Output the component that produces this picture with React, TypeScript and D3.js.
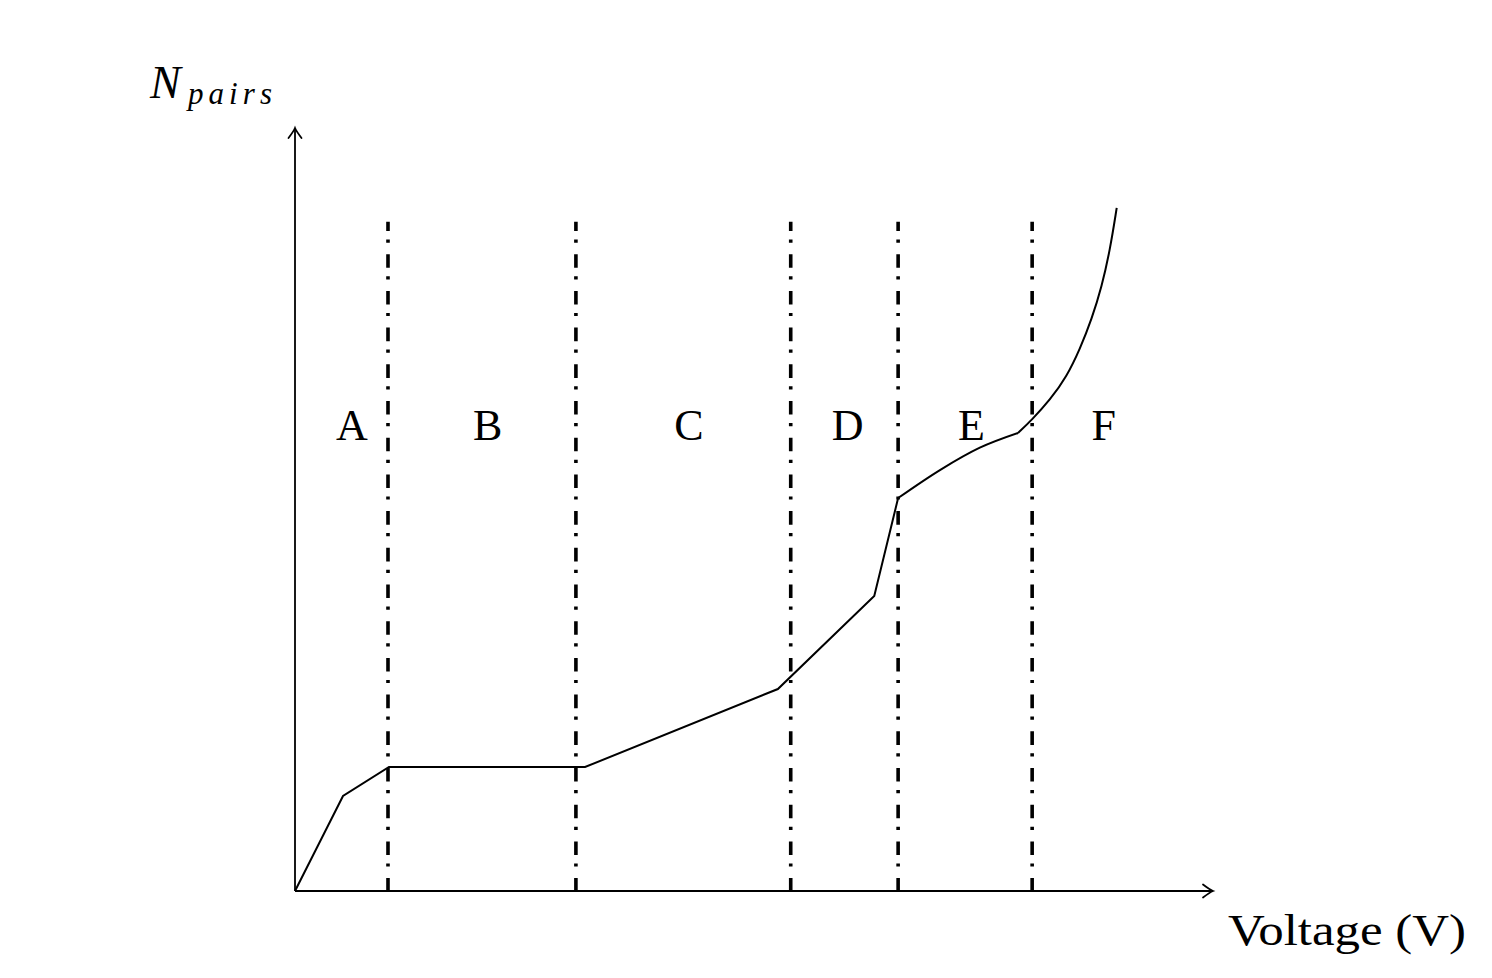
import React from "react";
import * as d3 from "d3";

const W = 1492;
const H = 978;

// piecewise-linear part (regions A–D)
const linearX = [0, 5.23, 10.24, 31.6, 52.6, 63.1, 65.7];
const linearY = [0, 12.45, 16.25, 16.25, 26.47, 38.66, 51.5];
// region E (gentle curve)
const eX = [65.7, 70.3, 74.6, 78.76];
const eY = [51.5, 55.2, 58.1, 60.03];
// region F (steep rise)
const fX = [78.76, 80.25, 82.24, 84.06, 85.51, 86.79, 87.88, 88.78, 89.51];
const fY = [60.03, 61.73, 64.35, 67.4, 71.04, 74.97, 79.2, 84.01, 89.52];

const dividerX = [10.13, 30.6, 54.0, 65.7, 80.3];
const dividerTop = 87.7;

const regionLabels = ["A", "B", "C", "D", "E", "F"];
const regionLabelX = [6.2, 21.0, 42.9, 60.2, 73.7, 88.1];
const regionLabelY = 59.1;

const xLabel = "Voltage (V)";
const yLabelMain = "N";
const yLabelSub = "pairs";

export default function App() {
  const x = d3.scaleLinear().domain([0, 100]).range([295, 1213]);
  const y = d3.scaleLinear().domain([0, 100]).range([891, 128]);

  const lin = d3
    .line<number>()
    .x((_, i) => x(linearX[i]))
    .y((d) => y(d));
  const eLine = d3
    .line<number>()
    .x((_, i) => x(eX[i]))
    .y((d) => y(d))
    .curve(d3.curveMonotoneX);
  const fLine = d3
    .line<number>()
    .x((_, i) => x(fX[i]))
    .y((d) => y(d))
    .curve(d3.curveBasis);

  const serif = "Liberation Serif, Times New Roman, serif";
  const arrow = "M -10,-6.5 Q -3,-1.2 0,0 Q -3,1.2 -10,6.5";

  const x0 = x(0);
  const y0 = y(0);
  const xEnd = x(100);
  const yEnd = y(100);

  return (
    <svg
      width={W}
      height={H}
      viewBox={`0 0 ${W} ${H}`}
      style={{ position: "absolute", left: 0, top: 0, background: "#fff" }}
    >
      <rect x={0} y={0} width={W} height={H} fill="#fff" />
      {/* dividers */}
      {dividerX.map((d, i) => (
        <line
          key={i}
          x1={x(d)}
          x2={x(d)}
          y1={y(0) + 0.7}
          y2={y(dividerTop)}
          stroke="#000"
          strokeWidth={3.6}
          strokeDasharray="13.6 11.5 3.2 8.4"
        />
      ))}
      {/* axes */}
      <line x1={x0} y1={y0} x2={xEnd - 1} y2={y0} stroke="#000" strokeWidth={1.8} />
      <line x1={x0} y1={y0} x2={x0} y2={yEnd + 1} stroke="#000" strokeWidth={1.8} />
      <path
        d={arrow}
        transform={`translate(${xEnd},${y0})`}
        fill="none"
        stroke="#000"
        strokeWidth={1.8}
        strokeLinecap="round"
      />
      <path
        d={arrow}
        transform={`translate(${x0},${yEnd}) rotate(-90)`}
        fill="none"
        stroke="#000"
        strokeWidth={1.8}
        strokeLinecap="round"
      />
      {/* curve */}
      <path d={lin(linearY) || ""} fill="none" stroke="#000" strokeWidth={2} strokeLinejoin="miter" />
      <path d={eLine(eY) || ""} fill="none" stroke="#000" strokeWidth={2} />
      <path d={fLine(fY) || ""} fill="none" stroke="#000" strokeWidth={2} />
      {/* region labels */}
      {regionLabels.map((t, i) => (
        <text
          key={t}
          x={x(regionLabelX[i])}
          y={y(regionLabelY)}
          textAnchor="middle"
          fontFamily={serif}
          fontSize={44}
          fill="#000"
        >
          {t}
        </text>
      ))}
      {/* axis labels */}
      <text
        x={1228}
        y={945}
        fontFamily={serif}
        fontSize={44}
        textLength={238}
        lengthAdjust="spacingAndGlyphs"
        fill="#000"
      >
        {xLabel}
      </text>
      <text x={150} y={98} fontFamily={serif} fontStyle="italic" fontSize={46} fill="#000">
        {yLabelMain}
      </text>
      <text
        x={188}
        y={104}
        fontFamily={serif}
        fontStyle="italic"
        fontSize={31}
        textLength={84}
        lengthAdjust="spacing"
        fill="#000"
      >
        {yLabelSub}
      </text>
    </svg>
  );
}
